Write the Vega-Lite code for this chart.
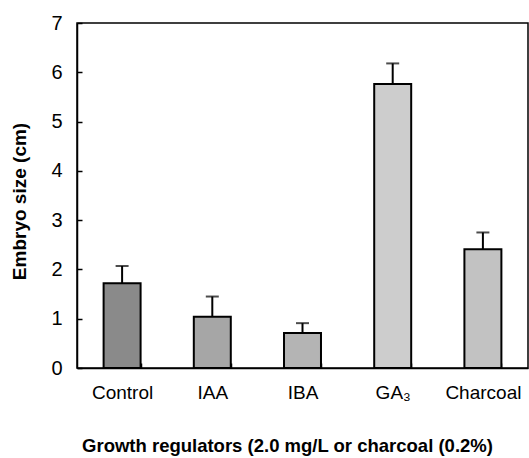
{
  "$schema": "https://vega.github.io/schema/vega-lite/v6.json",
  "autosize": {"type": "none"},
  "padding": {"left": 77, "top": 23, "right": 1, "bottom": 90},
  "width": 451,
  "height": 345,
  "background": "white",
  "config": {
    "view": {"stroke": "black", "strokeWidth": 1.5},
    "font": "Liberation Sans"
  },
  "data": {
    "values": [
      {"treatment": "Control", "size": 1.72, "upper": 2.07},
      {"treatment": "IAA", "size": 1.04, "upper": 1.45},
      {"treatment": "IBA", "size": 0.71, "upper": 0.91},
      {"treatment": "GA₃", "size": 5.76, "upper": 6.18},
      {"treatment": "Charcoal", "size": 2.41, "upper": 2.75}
    ]
  },
  "encoding": {
    "x": {
      "field": "treatment",
      "type": "nominal",
      "sort": null,
      "scale": {"paddingInner": 0.59, "paddingOuter": 0.295},
      "axis": {
        "title": "Growth regulators (2.0 mg/L or charcoal (0.2%)",
        "titleFont": "Liberation Sans",
        "titleFontSize": 18.5,
        "titleFontWeight": "bold",
        "titleColor": "black",
        "titlePadding": 34,
        "titleX": 210,
        "labelAngle": 0,
        "labelFont": "Liberation Sans",
        "labelFontSize": 19,
        "labelColor": "black",
        "labelPadding": 20,
        "tickBand": "extent",
        "tickSize": -5,
        "tickColor": "black",
        "tickWidth": 1.5,
        "domainColor": "black",
        "domainWidth": 1.5
      }
    }
  },
  "layer": [
    {
      "mark": {"type": "bar", "stroke": "black", "strokeWidth": 2},
      "encoding": {
        "y": {
          "field": "size",
          "type": "quantitative",
          "scale": {"domain": [0, 7], "nice": false},
          "axis": {
            "title": "Embryo size (cm)",
            "titleFont": "Liberation Sans",
            "titleFontSize": 19,
            "titleFontWeight": "bold",
            "titleColor": "black",
            "titlePadding": 21,
            "titleY": 178,
            "values": [0, 1, 2, 3, 4, 5, 6, 7],
            "grid": false,
            "labelFont": "Liberation Sans",
            "labelFontSize": 20,
            "labelColor": "black",
            "labelPadding": 20,
            "tickSize": -5,
            "tickColor": "black",
            "tickWidth": 1.5,
            "domainColor": "black",
            "domainWidth": 1.5
          }
        },
        "color": {
          "field": "treatment",
          "type": "nominal",
          "legend": null,
          "scale": {
            "domain": ["Control", "IAA", "IBA", "GA₃", "Charcoal"],
            "range": ["#8a8a8a", "#a6a6a6", "#b4b4b4", "#cdcdcd", "#c2c2c2"]
          }
        }
      }
    },
    {
      "mark": {"type": "rule", "color": "black", "strokeWidth": 2},
      "encoding": {
        "y": {"field": "size", "type": "quantitative"},
        "y2": {"field": "upper"}
      }
    },
    {
      "mark": {"type": "tick", "color": "black", "size": 13, "thickness": 2},
      "encoding": {
        "y": {"field": "upper", "type": "quantitative"}
      }
    }
  ]
}
